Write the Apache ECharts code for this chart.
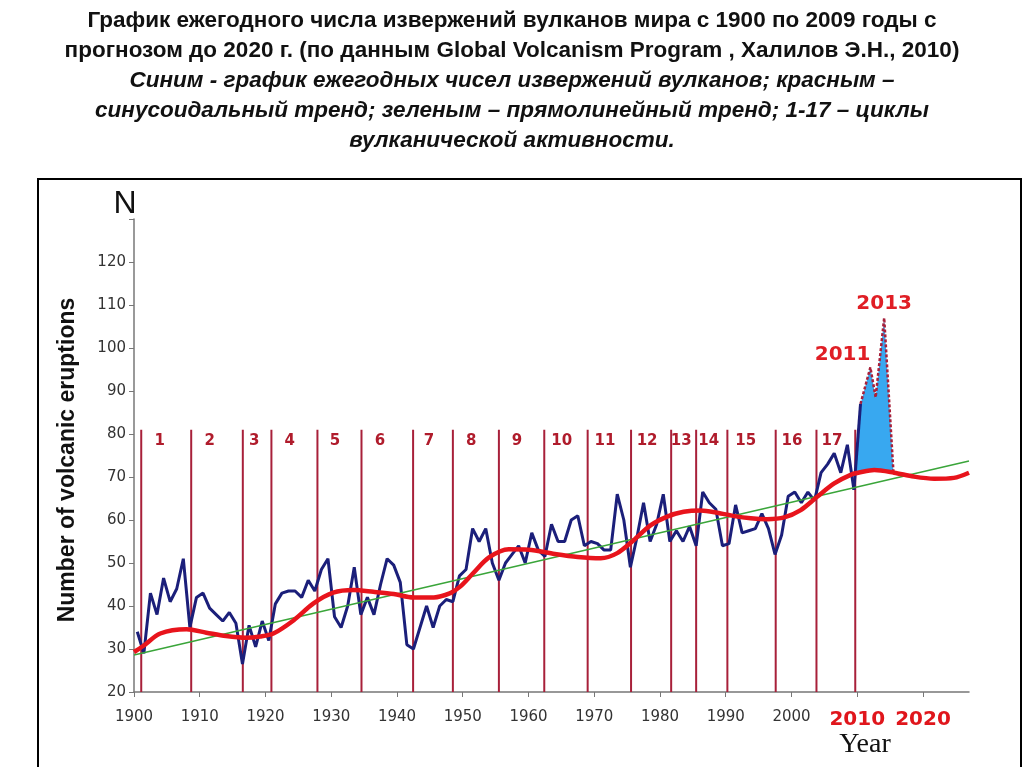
<!DOCTYPE html>
<html><head><meta charset="utf-8">
<script src="https://cdn.jsdelivr.net/npm/echarts@6/dist/echarts.min.js"></script>
<style>html,body{margin:0;padding:0;background:#fff;}#c{width:1024px;height:767px;}</style>
</head><body><div id="c"></div>
<script>
// ---------- data ----------
const titleLines = [
  'График ежегодного числа извержений вулканов мира с 1900 по 2009 годы с',
  'прогнозом до 2020 г. (по данным Global Volcanism Program , Халилов Э.Н., 2010)',
  'Синим - график ежегодных чисел извержений вулканов; красным –',
  'синусоидальный тренд; зеленым – прямолинейный тренд; 1-17 – циклы',
  'вулканической активности.'
];
const startYear = 1900;
const eruptions = [
  34, 29, 43, 38, 46.5, 41, 44, 51, 35, 42,
  43, 39.5, 38, 36.5, 38.5, 36, 26.5, 35.5, 30.5, 36.5,
  32, 40.5, 43, 43.5, 43.5, 42, 46, 43.5, 48.5, 51,
  37.5, 35, 40, 49, 38, 42, 38, 45, 51, 49.5,
  45.5, 31, 30, 35, 40, 35, 40, 41.5, 41, 47,
  48.5, 58, 55, 58, 50, 46, 50, 52, 54, 50,
  57, 53, 51.5, 59, 55, 55, 60, 61, 54, 55,
  54.5, 53, 53, 66, 60, 49, 56, 64, 55, 59,
  66, 55, 57.5, 55, 58.5, 54, 66.5, 64, 62.5, 54,
  54.5, 63.5, 57, 57.5, 58, 61.5, 58, 52, 56.5, 65.5,
  66.5, 64, 66.5, 64.5, 71, 73, 75.5, 71, 77.5, 67
];
const forecastYears  = [2010, 2011.5, 2012.3, 2013.6, 2015];
const forecastValues = [87, 95.5, 88.5, 107, 71.3];
const forecastLabels = ['', '2011', '', '2013', ''];
// sinusoidal trend (red), read at axis positions
const trendX = [1900, 1901.4, 1904, 1908, 1911, 1914, 1917, 1919.2, 1921.2, 1924.3, 1927.3, 1930.3, 1933.4, 1936.4, 1939.5, 1942.5, 1945.6, 1948.1, 1949.6, 1951.5, 1954, 1957, 1960, 1964, 1967.5, 1971, 1973.5, 1976, 1978.6, 1981.1, 1983.6, 1986.2, 1988.7, 1991.3, 1993.8, 1996.3, 1998.9, 2001.4, 2003.9, 2006.5, 2009, 2010.5, 2012.6, 2015.6, 2018.6, 2021.7, 2024.7, 2027];
const trendY = [29.3, 30.7, 33.6, 34.6, 33.8, 33, 32.6, 32.9, 33.6, 36.7, 40.6, 43.1, 43.7, 43.3, 42.8, 42, 42, 43, 44.5, 47.5, 51.3, 53.2, 53.1, 52.1, 51.4, 51.1, 52.3, 55.3, 58.8, 60.8, 61.9, 62.2, 61.7, 60.9, 60.4, 60.2, 60.6, 62.3, 65.4, 68.5, 70.5, 71.1, 71.6, 71, 70.1, 69.6, 69.8, 71];
// linear trend (green)
const linearX = [1900, 2027];
const linearY = [28.6, 73.7];
// cycle boundaries (axis positions) and names
const cycleBounds = [1901.1, 1908.7, 1916.55, 1920.9, 1927.9, 1934.6, 1942.45, 1948.5, 1955.5, 1962.4, 1969.0, 1975.6, 1981.7, 1985.5, 1990.25, 1997.6, 2003.8, 2009.7];
const cycleNames = ['1','2','3','4','5','6','7','8','9','10','11','12','13','14','15','16','17'];
const yTickMax = 120;

// ---------- build ----------
const C = 0.5; // yearly values centred inside their year
const blueData = eruptions.map((v, i) => [startYear + i + C, v]);
const lastObs = blueData[blueData.length - 1];
const fData = forecastYears.map((y, i) => [y + C, forecastValues[i]]);
const trendData = trendX.map((x, i) => [x, trendY[i]]);
function trendAt(x) {
  for (let i = 0; i < trendX.length - 1; i++) {
    if (x >= trendX[i] && x <= trendX[i + 1]) {
      const t = (x - trendX[i]) / (trendX[i + 1] - trendX[i]);
      return trendY[i] + t * (trendY[i + 1] - trendY[i]);
    }
  }
  return trendY[trendY.length - 1];
}
const chart = echarts.init(document.getElementById('c'));
const red = '#e8141c', darkRed = '#a8203a';

const titleY = [21, 51, 81, 111, 141];
const titleGraphics = titleLines.map((t, i) => ({
  type: 'text', x: 512, y: titleY[i],
  style: { text: t, font: (i >= 2 ? 'italic bold 22.5px ' : 'bold 22.5px ') + '"Liberation Sans", Arial, sans-serif', fill: '#111', textAlign: 'center', textVerticalAlign: 'middle' }
}));

const peakLabelData = fData.map((p, i) => ({ p, i })).filter(o => forecastLabels[o.i]).map(o => ({
  value: o.p,
  label: { show: true, formatter: forecastLabels[o.i], position: 'top',
    distance: o.i === 1 ? 2 : 4, align: o.i === 1 ? 'right' : 'center' }
}));

chart.setOption({
  animation: false,
  backgroundColor: '#fff',
  grid: { left: 134, right: 55, top: 219, bottom: 75, containLabel: false, outerBoundsMode: 'none' },
  xAxis: {
    type: 'value', min: 1900, max: 2027, interval: 10,
    axisLine: { lineStyle: { color: '#777', width: 1.5 } },
    axisTick: { length: 5, lineStyle: { color: '#777' } },
    splitLine: { show: false },
    axisLabel: {
      margin: 18,
      formatter: v => (v >= 2010 ? '{hi|' + v + '}' : '{n|' + v + '}'),
      rich: {
        n: { fontFamily: 'DejaVu Sans', fontSize: 15, color: '#333' },
        hi: { fontFamily: 'DejaVu Sans', fontWeight: 'bold', fontSize: 20, color: '#e0161c' }
      }
    }
  },
  yAxis: {
    type: 'value', min: 20, max: 130, interval: 10,
    axisLine: { show: true, lineStyle: { color: '#777', width: 1.5 } },
    axisTick: { show: true, length: 5, lineStyle: { color: '#777' } },
    splitLine: { show: false },
    axisLabel: { margin: 8, fontFamily: 'DejaVu Sans', fontSize: 15, color: '#333',
      formatter: v => (v > yTickMax ? '' : String(v)) }
  },
  graphic: titleGraphics.concat([
    { type: 'rect', shape: { x: 38, y: 179, width: 983, height: 640 }, style: { fill: 'none', stroke: '#000', lineWidth: 2 }, silent: true },
    { type: 'text', x: 68, y: 460, rotation: Math.PI / 2,
      style: { text: 'Number of volcanic eruptions', font: 'bold 23px "Liberation Sans", Arial, sans-serif', fill: '#111', textAlign: 'center', textVerticalAlign: 'middle' } },
    { type: 'text', x: 125, y: 204, style: { text: 'N', font: '32px "Liberation Sans", Arial, sans-serif', fill: '#111', textAlign: 'center', textVerticalAlign: 'middle' } },
    { type: 'text', x: 865, y: 745, style: { text: 'Year', font: '28px "Liberation Serif", "Times New Roman", serif', fill: '#111', textAlign: 'center', textVerticalAlign: 'middle' } }
  ]),
  series: [
    { // cycle boundary lines and numbers
      type: 'custom', z: 1, silent: true,
      data: cycleBounds.map((b, i) => [b, 20, i]),
      renderItem: (params, api) => {
        const b = api.value(0), i = api.value(2);
        const p0 = api.coord([b, 20]), p1 = api.coord([b, 81]);
        const children = [{ type: 'line', shape: { x1: p0[0], y1: p0[1], x2: p1[0], y2: p1[1] }, style: { stroke: darkRed, lineWidth: 2 } }];
        if (i < cycleNames.length) {
          const next = cycleBounds[i + 1];
          const lx = b + Math.min(2.8, 0.4 * (next - b));
          const pt = api.coord([lx, 78.4]);
          children.push({ type: 'text', x: pt[0], y: pt[1], style: { text: cycleNames[i], font: 'bold 15px "DejaVu Sans", sans-serif', fill: '#b01c2c', textAlign: 'center', textVerticalAlign: 'middle' } });
        }
        return { type: 'group', children };
      }
    },
    { // forecast area between forecast line and sinusoidal trend
      type: 'custom', z: 2, silent: true, data: [[2012, 80]],
      renderItem: (params, api) => {
        const A = lastObs, B = fData[0];
        let t = 0;
        for (let k = 0; k < 5; k++) { const x = A[0] + t * (B[0] - A[0]); t = (trendAt(x) - A[1]) / (B[1] - A[1]); }
        const sx = A[0] + t * (B[0] - A[0]);
        const start = [sx, A[1] + t * (B[1] - A[1])];
        const end = fData[fData.length - 1];
        const pts = [start].concat(fData);
        for (let i = trendX.length - 1; i >= 0; i--) if (trendX[i] < end[0] && trendX[i] > sx) pts.push([trendX[i], trendY[i]]);
        return { type: 'polygon', shape: { points: pts.map(p => api.coord(p)) }, style: { fill: '#38a8f0' } };
      }
    },
    { type: 'line', z: 3, data: blueData, symbol: 'none', lineStyle: { color: '#1b1f7a', width: 3 } },
    { type: 'line', z: 3, data: [lastObs, fData[0]], symbol: 'none', lineStyle: { color: '#1b1f7a', width: 3 } },
    { type: 'line', z: 4, symbol: 'none', data: fData,
      lineStyle: { color: darkRed, width: 2.5, type: [3, 2] } },
    { type: 'scatter', z: 7, symbol: 'circle', symbolSize: 1, itemStyle: { color: 'rgba(0,0,0,0)', opacity: 1 },
      data: peakLabelData,
      label: { fontFamily: 'DejaVu Sans', fontWeight: 'bold', fontSize: 20, color: '#e01e25' },
      labelLayout: { hideOverlap: false } },
    { type: 'line', z: 5, data: linearX.map((x, i) => [x, linearY[i]]), symbol: 'none', lineStyle: { color: '#3aa53a', width: 1.5 } },
    { type: 'line', z: 6, data: trendData, symbol: 'none', smooth: 0.3, lineStyle: { color: red, width: 4.5 } }
  ]
});
</script></body></html>
